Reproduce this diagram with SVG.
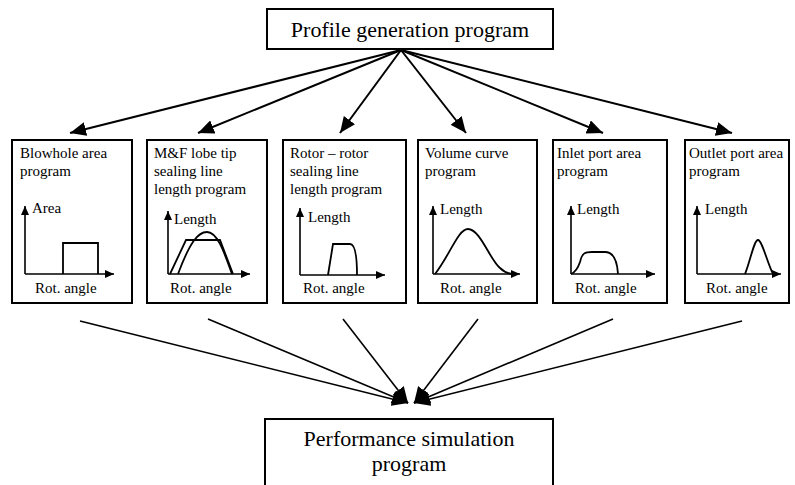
<svg xmlns="http://www.w3.org/2000/svg" width="795" height="485" viewBox="0 0 795 485">
<style>
  text { font-family: "Liberation Serif", "Times New Roman", serif; fill: #000; }
  .big { font-size: 22px; }
  .hdr { font-size: 15px; }
  .lbl { font-size: 15px; }
  .box { fill: #fff; stroke: #000; stroke-width: 2; }
  .conn { stroke: #000; stroke-width: 2; fill: none; }
  .conn2 { stroke: #000; stroke-width: 1.6; fill: none; }
  .axis { stroke: #000; stroke-width: 1.6; fill: none; }
  .curve { stroke: #000; stroke-width: 1.8; fill: none; }
</style>
<defs>
  <marker id="ah" markerUnits="userSpaceOnUse" markerWidth="16" markerHeight="14" refX="16" refY="7" orient="auto">
    <path d="M0,0 L16,7 L0,14 z" fill="#000"/>
  </marker>
  <marker id="ax" markerUnits="userSpaceOnUse" markerWidth="9" markerHeight="8" refX="9" refY="4" orient="auto">
    <path d="M0,0 L9,4 L0,8 z" fill="#000"/>
  </marker>
</defs>

<g id="profile">
  <rect class="box" x="267" y="9" width="286" height="40"/>
  <text class="big" x="410" y="37" text-anchor="middle">Profile generation program</text>
</g>

<g id="connectors">
  <line class="conn" x1="401" y1="50" x2="70" y2="133" marker-end="url(#ah)"/>
  <line class="conn" x1="401" y1="50" x2="198" y2="133" marker-end="url(#ah)"/>
  <line class="conn" x1="401" y1="50" x2="340" y2="133" marker-end="url(#ah)"/>
  <line class="conn" x1="401" y1="50" x2="466" y2="133" marker-end="url(#ah)"/>
  <line class="conn" x1="401" y1="50" x2="603" y2="133" marker-end="url(#ah)"/>
  <line class="conn" x1="401" y1="50" x2="732" y2="133" marker-end="url(#ah)"/>

  <line class="conn2" x1="80" y1="321" x2="408" y2="403" marker-end="url(#ah)"/>
  <line class="conn2" x1="208" y1="319" x2="408" y2="403" marker-end="url(#ah)"/>
  <line class="conn2" x1="343" y1="319" x2="408" y2="403" marker-end="url(#ah)"/>
  <line class="conn2" x1="478" y1="319" x2="414" y2="403" marker-end="url(#ah)"/>
  <line class="conn2" x1="613" y1="319" x2="414" y2="403" marker-end="url(#ah)"/>
  <line class="conn2" x1="742" y1="321" x2="414" y2="403" marker-end="url(#ah)"/>
</g>

<g id="blowhole">
  <rect class="box" x="12" y="140" width="120" height="163"/>
  <text class="hdr" x="20" y="158">Blowhole area</text>
  <text class="hdr" x="20" y="176">program</text>
  <line class="axis" x1="25" y1="274" x2="25" y2="206" marker-end="url(#ax)"/>
  <line class="axis" x1="25" y1="274" x2="114" y2="274" marker-end="url(#ax)"/>
  <path class="curve" d="M63,274 V243 H98 V274"/>
  <text class="lbl" x="32" y="213">Area</text>
  <text class="lbl" x="35" y="293">Rot. angle</text>
</g>

<g id="mf-lobe">
  <rect class="box" x="147" y="140" width="120" height="163"/>
  <text class="hdr" x="154" y="158">M&amp;F lobe tip</text>
  <text class="hdr" x="154" y="176">sealing line</text>
  <text class="hdr" x="154" y="194">length program</text>
  <line class="axis" x1="168" y1="274" x2="168" y2="211" marker-end="url(#ax)"/>
  <line class="axis" x1="168" y1="274" x2="250" y2="274" marker-end="url(#ax)"/>
  <path class="curve" d="M170,274 L186,240 L220,240 L233,274"/>
  <path class="curve" d="M178,274 C190,242 198,232 207,232 C218,232 225,255 232,274"/>
  <text class="lbl" x="174" y="224">Length</text>
  <text class="lbl" x="170" y="293">Rot. angle</text>
</g>

<g id="rotor-rotor">
  <rect class="box" x="283" y="140" width="123" height="163"/>
  <text class="hdr" x="290" y="158">Rotor – rotor</text>
  <text class="hdr" x="290" y="176">sealing line</text>
  <text class="hdr" x="290" y="194">length program</text>
  <line class="axis" x1="300" y1="275" x2="300" y2="208" marker-end="url(#ax)"/>
  <line class="axis" x1="300" y1="275" x2="385" y2="275" marker-end="url(#ax)"/>
  <path class="curve" d="M328,275 L333,244 L350,244 C355,244 357,255 357,275"/>
  <text class="lbl" x="308" y="222">Length</text>
  <text class="lbl" x="303" y="293">Rot. angle</text>
</g>

<g id="volume">
  <rect class="box" x="418" y="140" width="119" height="163"/>
  <text class="hdr" x="425" y="158">Volume curve</text>
  <text class="hdr" x="425" y="176">program</text>
  <line class="axis" x1="433" y1="274" x2="433" y2="206" marker-end="url(#ax)"/>
  <line class="axis" x1="433" y1="274" x2="520" y2="274" marker-end="url(#ax)"/>
  <path class="curve" d="M435,274 C450,255 458,229 468,229 C480,229 490,260 500,268 C505,273 510,274 514,274"/>
  <text class="lbl" x="440" y="214">Length</text>
  <text class="lbl" x="440" y="293">Rot. angle</text>
</g>

<g id="inlet">
  <rect class="box" x="553" y="140" width="114" height="163"/>
  <text class="hdr" x="557" y="158">Inlet port area</text>
  <text class="hdr" x="557" y="176">program</text>
  <line class="axis" x1="571" y1="274" x2="571" y2="206" marker-end="url(#ax)"/>
  <line class="axis" x1="571" y1="274" x2="655" y2="274" marker-end="url(#ax)"/>
  <path class="curve" d="M571,274 C576,272 578,268 580,262 C582,253 585,252 592,252 L605,252 C612,252 617,258 618,274"/>
  <text class="lbl" x="577" y="214">Length</text>
  <text class="lbl" x="575" y="293">Rot. angle</text>
</g>

<g id="outlet">
  <rect class="box" x="685" y="140" width="104" height="163"/>
  <text class="hdr" x="689" y="158">Outlet port area</text>
  <text class="hdr" x="689" y="176">program</text>
  <line class="axis" x1="697" y1="274" x2="697" y2="206" marker-end="url(#ax)"/>
  <line class="axis" x1="697" y1="274" x2="781" y2="274" marker-end="url(#ax)"/>
  <path class="curve" d="M745,274 C750,262 754,240 758,240 C762,240 767,262 773,274"/>
  <text class="lbl" x="705" y="214">Length</text>
  <text class="lbl" x="706" y="293">Rot. angle</text>
</g>

<g id="performance">
  <rect class="box" x="265" y="419" width="288" height="80"/>
  <text class="big" x="409" y="446" text-anchor="middle">Performance simulation</text>
  <text class="big" x="409" y="471" text-anchor="middle">program</text>
</g>
</svg>
